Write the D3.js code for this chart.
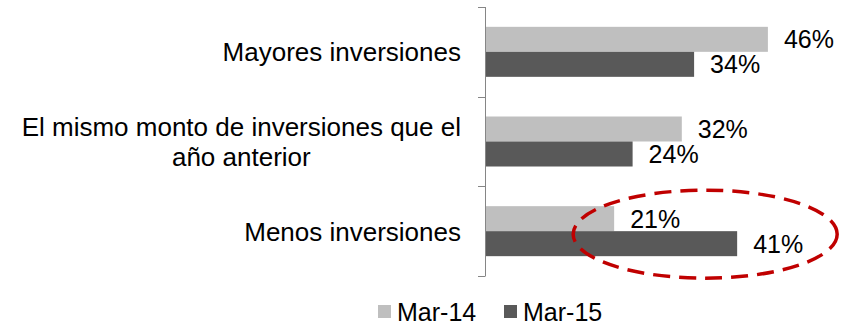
<!DOCTYPE html>
<html>
<head>
<meta charset="utf-8">
<script src="https://cdn.jsdelivr.net/npm/d3@7"></script>
<style>
  html, body { margin: 0; padding: 0; background: #fff; }
  svg { display: block; font-family: "Liberation Sans", Arial, sans-serif; }
</style>
</head>
<body>
<svg id="chart" width="841" height="324"></svg>
<script>
// Survey answers on investment plans, two survey waves
const categories = ["Mayores inversiones", "El mismo monto de inversiones que el año anterior", "Menos inversiones"];
const seriesNames = ["Mar-14", "Mar-15"];
const mar14 = [46, 32, 21];
const mar15 = [34, 24, 41];
const seriesColors = ["#BFBFBF", "#595959"];
const highlighted = "Menos inversiones";

const svg = d3.select("#chart");
const axisX = 485;

const x = d3.scaleLinear().domain([0, 50]).range([axisX, 792.5]);
const y = d3.scaleBand().domain(categories).range([7, 276]).padding(0);
const bw = y.bandwidth();
const ySub = d3.scaleBand().domain(seriesNames).range([bw / 2 - 25, bw / 2 + 25]).padding(0);

const rows = categories.map((c, i) => ({
  category: c,
  values: [
    { series: seriesNames[0], value: mar14[i] },
    { series: seriesNames[1], value: mar15[i] }
  ]
}));

// Bars
const groups = svg.selectAll("g.row").data(rows).join("g")
  .attr("class", "row")
  .attr("transform", d => `translate(0,${y(d.category)})`);

groups.selectAll("rect").data(d => d.values).join("rect")
  .attr("x", x(0))
  .attr("y", d => ySub(d.series))
  .attr("width", d => x(d.value) - x(0))
  .attr("height", ySub.bandwidth())
  .attr("fill", (d, i) => seriesColors[i]);

// Value labels
groups.selectAll("text.val").data(d => d.values).join("text")
  .attr("class", "val")
  .attr("x", d => x(d.value) + 16)
  .attr("y", d => ySub(d.series) + ySub.bandwidth() / 2)
  .attr("dy", "0.36em")
  .attr("font-size", 25)
  .attr("fill", "#000")
  .text(d => d.value + "%");

// Category axis: vertical line with ticks on band boundaries
const axisG = svg.append("g").attr("stroke", "#868686").attr("stroke-width", 1);
const [y0, y1] = y.range();
axisG.append("line")
  .attr("x1", axisX + 0.5).attr("x2", axisX + 0.5)
  .attr("y1", y0).attr("y2", y1);
const boundaries = categories.map(c => y(c)).concat([y1]);
axisG.selectAll("line.tick").data(boundaries).join("line")
  .attr("class", "tick")
  .attr("x1", axisX - 7).attr("x2", axisX + 0.5)
  .attr("y1", d => Math.round(d) + 0.5).attr("y2", d => Math.round(d) + 0.5);

// Category labels, wrapped and centred inside a right-aligned block
const labelRight = 461;
const maxLabelWidth = 455;
const lineHeight = 30;
const fontSize = 26;

categories.forEach(cat => {
  const g = svg.append("g");
  const probe = g.append("text").attr("font-size", fontSize);
  const words = cat.split(" ");
  const lines = [];
  let current = [];
  words.forEach(w => {
    const trial = current.concat([w]).join(" ");
    probe.text(trial);
    if (probe.node().getComputedTextLength() > maxLabelWidth && current.length) {
      lines.push(current.join(" "));
      current = [w];
    } else {
      current.push(w);
    }
  });
  lines.push(current.join(" "));
  const widths = lines.map(l => { probe.text(l); return probe.node().getComputedTextLength(); });
  probe.remove();
  const blockW = d3.max(widths);
  const cx = labelRight - blockW / 2;
  const cy = y(cat) + bw / 2;
  const startY = cy - (lines.length - 1) * lineHeight / 2;
  g.selectAll("text").data(lines).join("text")
    .attr("x", cx)
    .attr("y", (d, i) => startY + i * lineHeight)
    .attr("dy", "0.36em")
    .attr("text-anchor", "middle")
    .attr("font-size", fontSize)
    .attr("fill", "#000")
    .text(d => d);
});

// Dashed highlight around the "Menos inversiones" row
svg.append("ellipse")
  .attr("cx", x(35.8))
  .attr("cy", y(highlighted) + bw / 2 + 3)
  .attr("rx", 132)
  .attr("ry", 44)
  .attr("fill", "none")
  .attr("stroke", "#C00000")
  .attr("stroke-width", 3.5)
  .attr("stroke-dasharray", "17,9");

// Legend
const legendItems = [
  { name: seriesNames[0], color: seriesColors[0], x: 378 },
  { name: seriesNames[1], color: seriesColors[1], x: 504 }
];
const legend = svg.selectAll("g.legend").data(legendItems).join("g")
  .attr("class", "legend")
  .attr("transform", d => `translate(${d.x},305)`);
legend.append("rect").attr("width", 13).attr("height", 13).attr("fill", d => d.color);
legend.append("text")
  .attr("x", 19).attr("y", 6.5).attr("dy", "0.36em")
  .attr("font-size", 25).attr("fill", "#000")
  .text(d => d.name);
</script>
</body>
</html>
